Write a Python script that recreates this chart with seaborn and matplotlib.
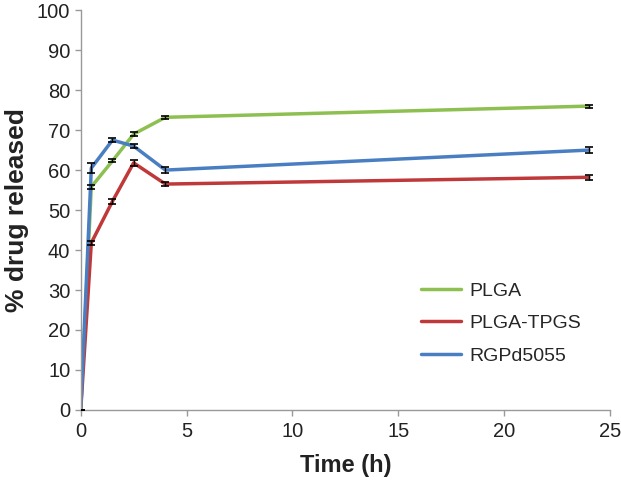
import matplotlib
matplotlib.use("Agg")
import matplotlib.pyplot as plt
import pandas as pd
import seaborn as sns

time_h = [0, 0.5, 1.5, 2.5, 4, 24]
series_names = ["PLGA", "PLGA-TPGS", "RGPd5055"]
plga = [0, 55.8, 62.3, 69.0, 73.2, 76.0]
plga_tpgs = [0, 41.8, 52.2, 61.8, 56.5, 58.2]
rgpd5055 = [0, 60.5, 67.5, 66.0, 60.0, 65.0]
plga_err = [0, 0.5, 0.4, 0.4, 0.4, 0.4]
plga_tpgs_err = [0, 0.5, 0.6, 0.8, 0.5, 0.6]
rgpd5055_err = [0, 1.2, 0.5, 0.5, 0.8, 0.7]

colors = {"PLGA": "#8dc051", "PLGA-TPGS": "#c0393a", "RGPd5055": "#4a7ec3"}

df = pd.DataFrame(
    {
        "time": time_h * 3,
        "released": plga + plga_tpgs + rgpd5055,
        "err": plga_err + plga_tpgs_err + rgpd5055_err,
        "formulation": [n for n in series_names for _ in time_h],
    }
)

sns.set_style("white")
plt.rcParams["font.family"] = ["Liberation Sans", "DejaVu Sans"]

fig = plt.figure(figsize=(6.21, 4.84), dpi=100)
ax = fig.add_axes([0.130, 0.153, 0.852, 0.826])

sns.lineplot(
    data=df,
    x="time",
    y="released",
    hue="formulation",
    hue_order=series_names,
    palette=colors,
    linewidth=2.5,
    ax=ax,
)
for name in series_names:
    sub = df[df["formulation"] == name]
    ax.errorbar(
        sub["time"], sub["released"], yerr=sub["err"],
        fmt="none", ecolor="black", elinewidth=1, capsize=3, capthick=1.2, zorder=3,
    )

ax.set_xlim(0, 25)
ax.set_ylim(0, 100)
ax.set_xticks(range(0, 26, 5))
ax.set_yticks(range(0, 101, 10))
ax.tick_params(axis="both", labelsize=14.5, length=4, width=1,
               direction="out", bottom=True, left=True,
               colors="#999999", labelcolor="#222222")
ax.tick_params(axis="x", pad=5)
for side in ["top", "right"]:
    ax.spines[side].set_visible(False)
for side in ["left", "bottom"]:
    ax.spines[side].set_color("#999999")
    ax.spines[side].set_linewidth(1)

ax.set_xlabel("Time (h)", fontsize=17, fontweight="bold", labelpad=9, color="#222222")
ax.set_ylabel("% drug released", fontsize=19, fontweight="bold", labelpad=6, color="#222222")

leg = ax.legend(
    loc="upper left", bbox_to_anchor=(0.635, 0.33), frameon=False,
    borderaxespad=0, borderpad=0.2,
    fontsize=14, handlelength=2.1, handletextpad=0.4, labelspacing=0.78,
)
for line in leg.get_lines():
    line.set_linewidth(2.5)

fig.savefig("out.png", dpi=100)
